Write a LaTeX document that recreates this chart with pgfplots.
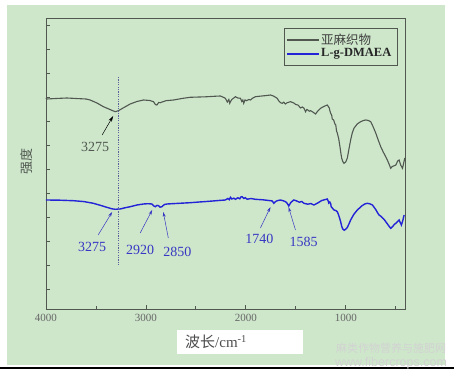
\documentclass[border=0pt]{standalone}
\usepackage{fontspec}
\setmainfont{Liberation Serif}
\newfontfamily\cjk{Noto Sans CJK SC}
\newfontfamily\wsans{Liberation Sans}
\usepackage{pgfplots}
\pgfplotsset{compat=1.18}
\usetikzlibrary{arrows.meta}
\definecolor{bg}{RGB}{206,231,203}
\definecolor{gcurve}{RGB}{80,88,80}
\definecolor{bcurve}{RGB}{35,35,215}
\definecolor{lblue}{RGB}{55,55,195}
\begin{document}
\begin{tikzpicture}[x=1pt,y=1pt]
\fill[white] (0,0) rectangle (454,371);
\useasboundingbox (0,0) rectangle (454,371);
\fill[bg] (7,6) rectangle (445,366);
\draw[black, line width=1.5pt] (0,3) -- (454,3);
\begin{axis}[at={(46pt,62pt)}, anchor=south west, scale only axis,
  width=359.7pt, height=291pt,
  x dir=reverse, xmin=400, xmax=4000, ymin=0, ymax=291,
  xtick={4000,3000,2000,1000}, minor xtick={3500,2500,1500,500},
  ytick={20,44,...,284}, yticklabels={},
  axis line style={gcurve, line width=0.9pt},
  tick style={gcurve, line width=0.8pt},
  major tick length=4pt, minor tick length=3pt,
  ytick pos=left, xtick pos=bottom, tick align=inside,
  /pgf/number format/assume math mode=true,
  /pgf/number format/1000 sep={},
  xticklabel style={font=\fontsize{11}{11}\selectfont, text=black!60, yshift=-2pt},
  clip=false,
]
\addplot[draw=gcurve, line width=1.1pt] coordinates {
(4000,211) (3993,210) (3880,210.6) (3792,211) (3680,210.4) (3600,210) (3559,209) (3490,206) (3425,202.3) (3360,199.5) (3308,197.3)
(3275,198.3) (3220,201.5) (3157,205) (3090,207.5) (3024,209) (2960,208.5) (2924,207.3) (2905,204.5) (2890,204) (2872,206.5) (2857,206.3) (2800,208.3) (2723,209)
(2640,210.5) (2556,211.7) (2400,212.2) (2300,212.8) (2255,213) (2220,211.5) (2205,210.7) (2185,207) (2170,209.5) (2161,205.7) (2150,208) (2138,209.7) (2120,211) (2104,212.3)
(2080,211) (2054,210.7) (2040,207.5) (2030,209) (2021,205.7) (2008,209) (1994,208.3) (1970,209.5) (1954,209) (1930,211) (1904,212.3) (1840,213) (1790,213.5) (1753,214)
(1720,212.8) (1686,210.7) (1670,208) (1653,206.3) (1636,205.7) (1620,206.8) (1605,205) (1586,206.3) (1553,207.3) (1520,206) (1500,204.5) (1480,204)
(1465,202.5) (1452,201) (1435,202) (1420,201) (1402,197.3) (1390,199.5) (1380,199) (1365,197.8) (1352,198.3) (1330,197) (1302,195)
(1280,198) (1252,200.7) (1220,202.5) (1185,204) (1165,201) (1158,198) (1152,196) (1140,193.5) (1135,190) (1121,189) (1108,185) (1100,184)
(1092,178) (1085,176) (1070,170) (1058,162.3) (1049,156) (1041,151) (1030,147.5) (1018,145.7) (1000,147) (984,151) (968,160) (951,169)
(935,176) (918,180.7) (885,185) (851,187.3) (820,188.6) (800,189) (775,188.6) (750,187.3) (725,182) (700,176) (675,169) (650,162.3) (625,157) (600,152.3)
(575,147) (550,140.7) (535,142.5) (520,143) (499,144) (480,148) (466,149) (450,144) (432,140.7) (420,146) (409,151)
};
\addplot[draw=bcurve, line width=1.4pt] coordinates {
(4000,109) (3993,109) (3860,108.8) (3726,108.3) (3620,107.4) (3526,105.7) (3450,103.5) (3392,101.7) (3340,100.2) (3308,99.7)
(3258,100) (3210,101.2) (3157,102.3) (3090,104) (3024,105) (2980,105.3) (2940,105) (2920,103) (2907,102.3) (2890,103.6) (2874,103.3) (2858,101.8)
(2840,102.3) (2815,104.5) (2789,105) (2700,105.5) (2556,106.3) (2480,106.9) (2422,107.3) (2330,108) (2260,108.6) (2205,109) (2180,110.5) (2165,109.3) (2154,111.7)
(2140,110) (2120,110.8) (2104,109.7) (2080,111.2) (2060,110.2) (2050,112) (2037,112.3) (2020,110.5) (2005,111.3) (1987,109.7) (1950,110.5) (1904,109.7) (1830,109.2) (1753,108.3) (1735,108) (1720,105.7)
(1705,107.3) (1686,108.3) (1653,109) (1625,108.2) (1603,107.3) (1586,105.7) (1570,103) (1550,106.5) (1520,109) (1490,108) (1465,106.8) (1440,107.5)
(1419,105.7) (1380,104.8) (1350,105.5) (1319,104) (1280,106) (1240,108.5) (1210,109.3) (1185,110) (1175,107.8) (1170,106) (1160,107) (1152,105.7) (1145,102) (1135,101) (1118,99)
(1100,98.5) (1085,97.3) (1075,95) (1065,92) (1051,87.3) (1040,82.5) (1028,79.7) (1015,78.8) (1001,79.7) (985,81.5) (968,85) (951,89) (920,94.5) (884,99)
(840,103) (810,105) (784,105.7) (760,105.2) (733,104) (700,99.5) (680,96) (667,94) (645,92.5) (617,89.7) (590,86) (570,83.2) (550,80.7) (530,82.5) (515,84.5) (499,85.7) (480,87.5) (466,89)
(455,86.5) (443,84) (430,88) (416,94)
};
% dotted marker line
\draw[dash pattern=on 1.2pt off 1.2pt, lblue!45!gray, line width=0.4pt] (axis cs:3275,232) -- (axis cs:3275,44);
% gray annotation
\node[text=gcurve, font=\fontsize{14}{14}\selectfont] at (axis cs:3508,162) {3275};
\draw[-{Stealth[length=6pt,width=3.5pt]}, black, line width=0.5pt] (axis cs:3438,174) -- (axis cs:3328,193);
% blue annotations
\begin{scope}[lblue, line width=0.5pt]
\node[text=lblue, font=\fontsize{14}{14}\selectfont] at (axis cs:3539,62) {3275};
\draw[-{Stealth[length=5pt,width=3pt]}] (axis cs:3478,74) -- (axis cs:3338,97);
\node[text=lblue, font=\fontsize{14}{14}\selectfont] at (axis cs:3057,59) {2920};
\draw[-{Stealth[length=5pt,width=3pt]}] (axis cs:3057,76) -- (axis cs:2937,99);
\node[text=lblue, font=\fontsize{14}{14}\selectfont] at (axis cs:2686,57) {2850};
\draw[-{Stealth[length=5pt,width=3pt]}] (axis cs:2776,71) -- (axis cs:2826,97);
\node[text=lblue, font=\fontsize{14}{14}\selectfont] at (axis cs:1864,70) {1740};
\draw[-{Stealth[length=5pt,width=3pt]}] (axis cs:1854,81) -- (axis cs:1753,102);
\node[text=lblue, font=\fontsize{14}{14}\selectfont] at (axis cs:1422,67) {1585};
\draw[-{Stealth[length=5pt,width=3pt]}] (axis cs:1503,79) -- (axis cs:1573,102);
\end{scope}
\end{axis}
% legend (drawn by hand)
\draw[gcurve, line width=0.8pt, fill=bg] (284,343) rectangle (397,306);
\draw[gcurve, line width=1.1pt] (287,331) -- (319,331);
\draw[bcurve, line width=1.4pt] (287,317) -- (319,317);
\node[anchor=west, inner sep=0pt, text=black!75, font=\cjk\fontsize{12.5}{12.5}\selectfont] at (321,331) {亚麻织物};
\node[anchor=west, inner sep=0pt, text=black!85, font=\bfseries\fontsize{12.5}{12.5}\selectfont] at (321,317) {L-g-DMAEA};
% y label
\node[rotate=90, text=gcurve, font=\cjk\fontsize{13}{13}\selectfont] at (27,209) {强度};
% x label box
\fill[white] (177,17) rectangle (303,41);
\node[anchor=west, text=black!70, font=\fontsize{15}{15}\selectfont, inner sep=0pt] at (185,29) {{\cjk 波长}/cm\textsuperscript{-1}};
% watermark
\node[text=gray!35, font=\cjk\fontsize{11}{11}\selectfont] at (391,23) {麻类作物营养与施肥网};
\node[text=gray!35, font=\wsans\fontsize{12.5}{12.5}\selectfont] at (391,8) {www.fibercrops.com};
\end{tikzpicture}
\end{document}
